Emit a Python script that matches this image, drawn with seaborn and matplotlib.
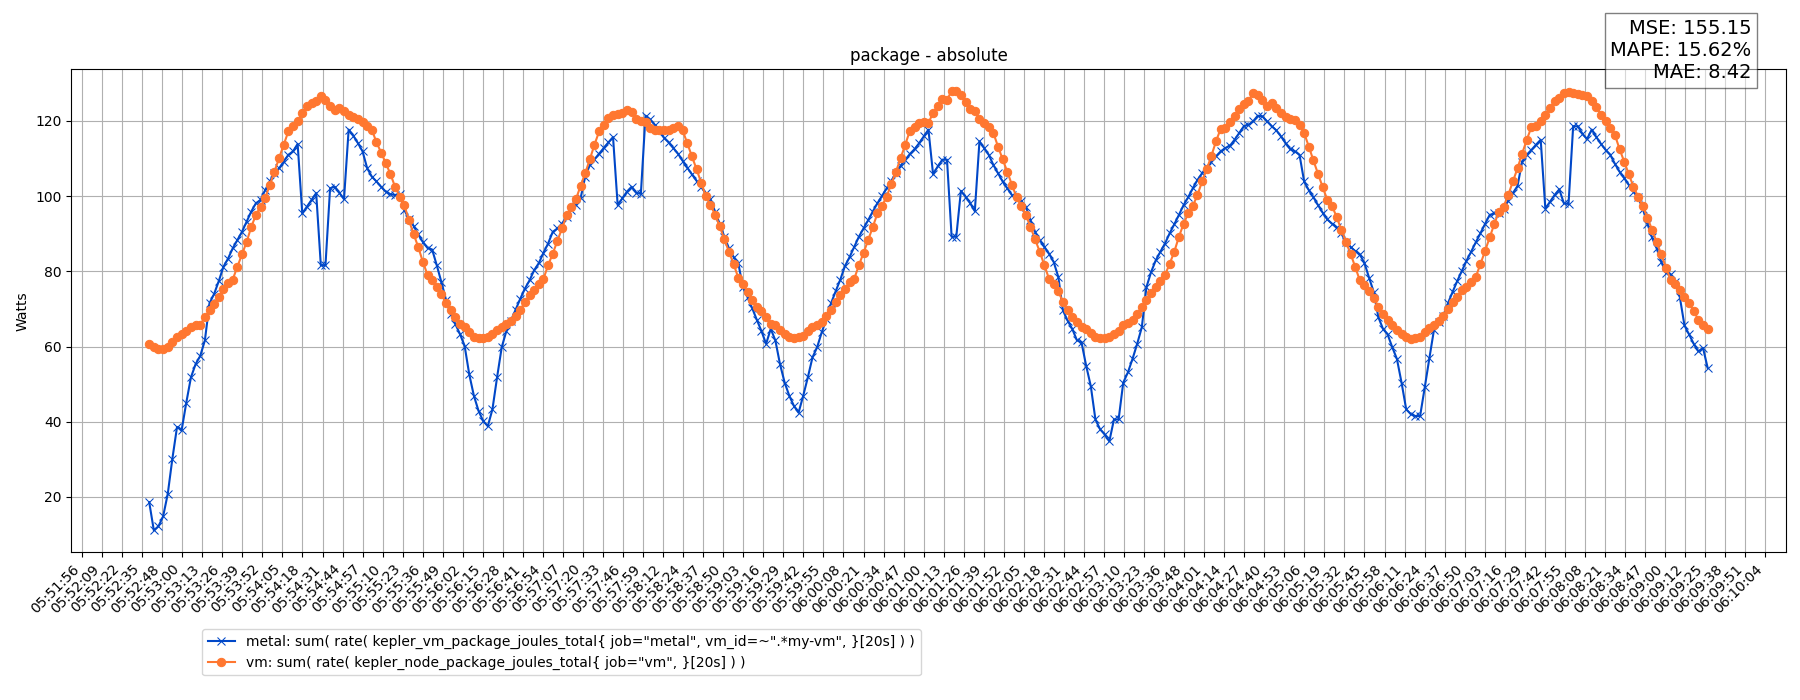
import pandas as pd
import seaborn as sns
import matplotlib
matplotlib.use("Agg")
import matplotlib.pyplot as plt
import matplotlib.dates as mdates

# samples every 3 s, both queries share the same timestamps
start_time = "2024-01-01 05:52:39.6"
step = "3s"

metal_watts = [
    18.6, 11.1, 12.2, 14.8, 20.8, 30.2, 38.6, 37.8, 45.1, 51.8, 55.3, 57.5, 61.6, 71.5, 74.0, 77.4,
    81.2, 83.4, 86.1, 88.3, 90.5, 93.2, 95.9, 98.1, 99.0, 101.6, 103.9, 106.1, 107.4, 109.2, 111.0, 111.9,
    113.9, 95.4, 97.2, 99.0, 100.8, 81.6, 81.6, 102.1, 102.5, 100.9, 99.2, 117.7, 116.1, 114.1, 111.9, 107.4,
    105.2, 103.9, 102.5, 101.2, 100.5, 100.3, 100.6, 96.3, 94.0, 92.1, 89.8, 87.8, 86.2, 85.8, 81.6, 77.1,
    72.4, 68.7, 66.0, 63.3, 60.2, 52.6, 46.9, 42.9, 40.2, 38.8, 43.3, 51.8, 59.8, 64.1, 66.9, 69.8,
    72.7, 75.4, 77.6, 80.3, 82.2, 84.9, 87.4, 90.5, 91.4, 92.7, 94.5, 96.3, 97.6, 99.4, 105.2, 108.3,
    109.8, 111.3, 112.8, 114.3, 115.7, 97.6, 99.4, 101.2, 102.5, 100.9, 100.6, 121.4, 120.4, 119.0, 117.7, 115.5,
    114.3, 112.8, 111.3, 109.4, 107.6, 105.8, 104.1, 102.4, 100.8, 99.2, 95.9, 92.6, 89.2, 86.1, 83.8, 82.2,
    75.8, 73.1, 70.2, 67.1, 64.1, 60.7, 64.7, 61.6, 55.3, 50.4, 46.9, 44.2, 42.4, 46.9, 51.8, 57.1,
    59.8, 63.8, 67.3, 71.5, 74.7, 77.8, 81.4, 83.8, 86.5, 89.2, 91.4, 93.6, 95.9, 98.1, 100.1, 102.1,
    104.1, 106.1, 108.1, 109.7, 111.2, 112.5, 114.1, 115.9, 117.7, 105.8, 107.9, 109.7, 109.7, 89.2, 89.2, 101.4,
    99.9, 98.1, 96.0, 114.6, 112.8, 111.0, 108.3, 106.1, 103.9, 102.1, 100.3, 99.0, 98.8, 97.2, 93.6, 90.5,
    88.3, 86.5, 84.7, 82.5, 78.5, 69.6, 66.9, 64.7, 61.7, 61.1, 54.9, 49.5, 40.6, 38.0, 36.6, 34.8,
    40.6, 40.6, 50.4, 53.1, 56.7, 60.7, 65.1, 75.8, 79.8, 82.9, 85.2, 87.4, 90.1, 92.5, 95.0, 97.6,
    99.7, 102.1, 104.3, 106.1, 107.7, 109.2, 110.6, 111.9, 112.8, 113.4, 115.0, 116.8, 118.6, 119.0, 119.9, 121.4,
    121.2, 119.9, 118.6, 117.5, 115.9, 114.1, 112.5, 111.9, 111.0, 103.9, 101.6, 99.7, 97.6, 95.6, 93.8, 92.7,
    91.7, 90.1, 87.8, 86.5, 85.4, 84.5, 82.2, 78.3, 74.5, 67.8, 64.7, 63.2, 59.8, 56.7, 50.4, 43.3,
    42.0, 41.5, 41.5, 49.1, 56.9, 64.5, 66.5, 68.2, 71.5, 74.5, 77.4, 80.1, 82.8, 85.2, 87.7, 90.1,
    92.6, 95.0, 95.4, 95.6, 96.7, 98.8, 100.8, 102.7, 109.2, 111.0, 112.3, 113.7, 115.0, 96.7, 98.5, 100.3,
    101.8, 98.1, 97.9, 118.6, 118.6, 116.6, 115.2, 117.7, 115.7, 113.9, 112.3, 111.0, 108.6, 106.5, 104.8, 103.0,
    101.2, 99.7, 96.7, 92.7, 89.0, 86.1, 82.5, 79.6, 79.2, 77.1, 73.1, 65.6, 63.2, 60.7, 58.7, 59.6,
    54.3,
]

vm_watts = [
    60.7, 59.8, 59.3, 59.3, 59.8, 61.1, 62.4, 63.3, 64.2, 65.1, 65.8, 65.8, 67.8, 69.6, 71.4, 73.3,
    75.4, 76.9, 77.8, 81.2, 84.5, 87.8, 91.8, 95.0, 97.2, 99.4, 103.0, 106.5, 110.1, 113.7, 117.2, 118.6,
    119.9, 122.1, 123.9, 124.8, 125.3, 126.6, 125.7, 123.9, 123.0, 123.5, 122.6, 121.7, 121.1, 120.4, 119.6, 118.6,
    117.7, 114.3, 111.6, 108.8, 105.9, 102.5, 99.9, 97.6, 93.6, 89.9, 86.5, 82.5, 79.1, 77.6, 75.8, 73.9,
    71.5, 69.6, 67.8, 66.0, 65.1, 63.8, 62.6, 62.3, 62.3, 62.6, 63.3, 64.4, 65.3, 66.0, 66.9, 68.2,
    69.8, 71.8, 73.6, 75.1, 76.7, 78.0, 81.6, 84.7, 88.1, 91.4, 95.0, 97.2, 99.2, 102.7, 106.1, 109.8,
    113.7, 117.2, 119.0, 120.8, 121.7, 121.9, 122.1, 122.8, 122.3, 120.4, 119.9, 119.6, 118.2, 117.7, 117.5, 117.5,
    117.7, 118.1, 118.6, 117.5, 114.1, 110.6, 107.2, 103.6, 100.0, 97.6, 95.1, 92.0, 88.5, 85.2, 81.9, 78.3,
    76.5, 74.5, 72.3, 70.5, 69.4, 67.8, 66.0, 65.6, 64.4, 63.3, 62.4, 62.3, 62.4, 62.9, 64.1, 65.1,
    65.8, 66.5, 68.2, 69.8, 71.8, 73.6, 75.4, 77.1, 78.0, 81.6, 84.9, 88.3, 91.8, 95.4, 97.4, 99.9,
    103.3, 106.5, 110.1, 113.7, 117.4, 118.3, 119.5, 119.6, 119.5, 122.1, 124.1, 125.9, 125.7, 127.9, 127.9, 126.8,
    125.0, 123.2, 122.6, 120.5, 119.5, 118.4, 116.8, 113.2, 109.8, 106.5, 103.0, 99.7, 97.4, 95.0, 91.8, 88.5,
    85.2, 81.6, 78.0, 76.5, 74.7, 71.8, 69.6, 67.8, 66.5, 65.3, 64.7, 63.5, 62.4, 62.3, 62.3, 62.4,
    63.2, 64.2, 65.6, 66.2, 67.1, 68.7, 70.5, 72.3, 74.2, 75.8, 77.5, 79.0, 82.0, 85.2, 89.2, 92.6,
    95.4, 97.4, 100.3, 103.9, 107.2, 110.7, 114.6, 117.9, 118.1, 119.6, 121.4, 123.2, 124.4, 125.3, 127.5, 127.0,
    125.7, 124.1, 124.8, 123.5, 122.1, 121.0, 120.5, 120.2, 119.0, 116.8, 113.2, 109.5, 105.9, 102.4, 99.0, 97.4,
    94.5, 91.1, 87.8, 84.7, 81.2, 77.6, 76.3, 74.7, 73.0, 70.6, 68.7, 67.1, 65.6, 64.4, 63.3, 62.4,
    62.0, 62.3, 62.6, 63.8, 64.8, 65.8, 66.7, 68.2, 70.0, 71.8, 73.1, 74.9, 75.8, 77.1, 78.5, 81.9,
    85.4, 89.0, 92.6, 95.9, 97.2, 100.3, 103.9, 107.4, 111.3, 115.0, 118.4, 118.6, 119.9, 121.7, 123.5, 125.3,
    126.1, 127.5, 127.7, 127.5, 127.3, 127.0, 126.6, 125.3, 123.7, 121.7, 119.9, 118.1, 116.3, 112.5, 109.2, 105.8,
    102.5, 99.9, 97.4, 94.3, 91.1, 87.8, 84.5, 81.0, 77.8, 76.7, 74.9, 73.1, 71.5, 69.4, 67.1, 65.6,
    64.7,
]

metal_label = 'metal: sum( rate( kepler_vm_package_joules_total{ job="metal", vm_id=~".*my-vm", }[20s] ) )'
vm_label = 'vm: sum( rate( kepler_node_package_joules_total{ job="vm", }[20s] ) )'
metrics_text = "MSE: 155.15\nMAPE: 15.62%\nMAE: 8.42"

# x tick labels in the original sit every 12.96 s
tick_start = "2024-01-01 05:51:56.18"
tick_step = "12960ms"
n_ticks = 85

times = pd.date_range(start_time, periods=len(metal_watts), freq=step)
df = pd.DataFrame({"time": times, "metal": metal_watts, "vm": vm_watts})

fig, ax = plt.subplots(figsize=(18, 7), dpi=100)
fig.subplots_adjust(left=0.0396, right=0.992, top=0.901, bottom=0.211)

sns.lineplot(data=df, x="time", y="metal", ax=ax, color="#0047c8", marker="x",
             markersize=6, markeredgecolor="#0047c8", linewidth=1.5, label=metal_label)
sns.lineplot(data=df, x="time", y="vm", ax=ax, color="#ff7730", marker="o",
             markersize=6, markeredgecolor="#ff7730", linewidth=1.5, label=vm_label)

ax.set_xticks(pd.date_range(tick_start, periods=n_ticks, freq=tick_step))
ax.xaxis.set_major_formatter(mdates.DateFormatter("%H:%M:%S"))
plt.setp(ax.get_xticklabels(), rotation=45, ha="right")
ax.grid(True, color="#b0b0b0", linewidth=0.8)

ax.set_title("package - absolute")
ax.set_xlabel("")
ax.set_ylabel("Watts")

ax.legend(loc="upper left", bbox_to_anchor=(202 / 1800, 1 - 629 / 700),
          bbox_transform=fig.transFigure, borderaxespad=0)

fig.text(0.973, 0.973, metrics_text, ha="right", va="top", fontsize=14,
         bbox=dict(facecolor="white", alpha=0.5))

plt.savefig("out.png")
